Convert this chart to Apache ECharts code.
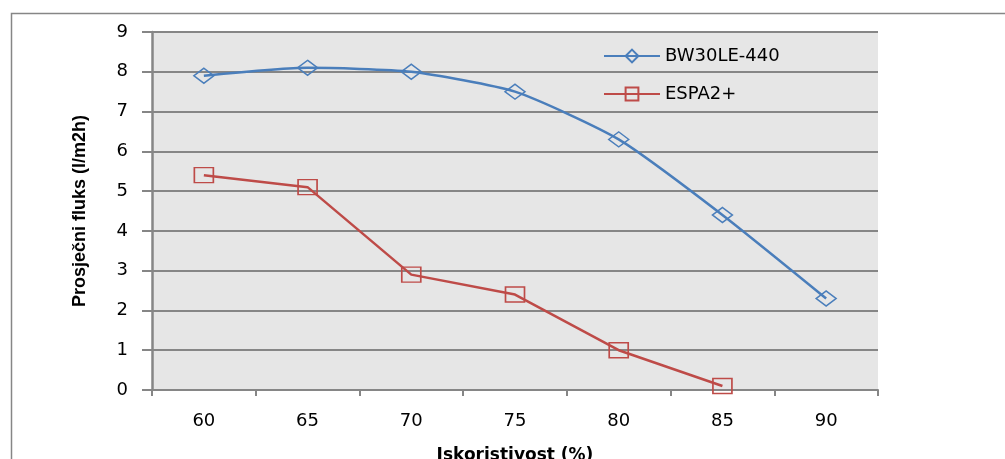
<!DOCTYPE html>
<html>
<head>
<meta charset="utf-8">
<script src="https://cdn.jsdelivr.net/npm/echarts@6/dist/echarts.min.js"></script>
<style>html,body{margin:0;padding:0;background:#fff}#c{width:1005px;height:459px}</style>
</head>
<body>
<div id="c"></div>
<script>
var categories = ['60', '65', '70', '75', '80', '85', '90'];
var bw30le440 = [7.9, 8.1, 8.0, 7.5, 6.3, 4.4, 2.3];
var espa2plus = [5.4, 5.1, 2.9, 2.4, 1.0, 0.1, null];
var seriesNames = ['BW30LE-440', 'ESPA2+'];
var yTicks = [0, 9, 1];

var chart = echarts.init(document.getElementById('c'));
var axisGray = '#868686';
var labelFont = "'DejaVu Sans', sans-serif";
chart.setOption({
  animation: false,
  backgroundColor: '#ffffff',
  graphic: [{
    type: 'rect', left: 9, top: 11, silent: true, z: -10,
    shape: { width: 1200, height: 600 },
    style: { fill: 'none', stroke: axisGray, lineWidth: 1.5 }
  }],
  grid: { left: 152, top: 32, right: 127, bottom: 69, show: true, backgroundColor: '#e6e6e6', borderWidth: 0, containLabel: false, outerBoundsMode: 'none' },
  legend: {
    orient: 'vertical', left: 598, top: 42, itemWidth: 56, itemHeight: 16, itemGap: 20,
    textStyle: { fontFamily: labelFont, fontSize: 18, color: '#000' },
    data: seriesNames
  },
  xAxis: {
    type: 'category', data: categories, boundaryGap: true,
    name: 'Iskoristivost (%)', nameLocation: 'middle', nameGap: 57,
    nameTextStyle: { fontFamily: labelFont, fontWeight: 'bold', fontSize: 17, color: '#000' },
    axisLine: { lineStyle: { color: axisGray, width: 2 } },
    axisTick: { show: true, interval: 0, length: 6, lineStyle: { color: axisGray, width: 2 } },
    axisLabel: { margin: 22, fontFamily: labelFont, fontSize: 18, color: '#000' }
  },
  yAxis: {
    type: 'value', min: yTicks[0], max: yTicks[1], interval: yTicks[2],
    name: 'Prosječni fluks (l/m2h)', nameLocation: 'middle', nameGap: 63, nameRotate: 90,
    nameTextStyle: { fontFamily: "'Liberation Sans Narrow', 'Liberation Sans', Arial, sans-serif", fontWeight: 'bold', fontSize: 18, color: '#000' },
    axisLine: { show: true, lineStyle: { color: axisGray, width: 2.5 } },
    axisTick: { show: true, length: 10, lineStyle: { color: axisGray, width: 2 } },
    axisLabel: { margin: 24, fontFamily: labelFont, fontSize: 18, color: '#000' },
    splitLine: { lineStyle: { color: axisGray, width: 2 } }
  },
  series: [{
    name: seriesNames[0], type: 'line', data: bw30le440, smooth: 0.2,
    symbol: 'diamond', symbolSize: [20, 15], showAllSymbol: true,
    lineStyle: { color: '#4a7ebb', width: 2.5 },
    itemStyle: { color: 'rgba(0,0,0,0)', borderColor: '#4a7ebb', borderWidth: 1.5 },
    z: 3
  }, {
    name: seriesNames[1], type: 'line', data: espa2plus, smooth: false,
    symbol: 'rect', symbolSize: [19, 15], showAllSymbol: true,
    lineStyle: { color: '#be4b48', width: 2.5 },
    itemStyle: { color: 'rgba(0,0,0,0)', borderColor: '#be4b48', borderWidth: 1.5 },
    z: 2
  }]
});
</script>
</body>
</html>
